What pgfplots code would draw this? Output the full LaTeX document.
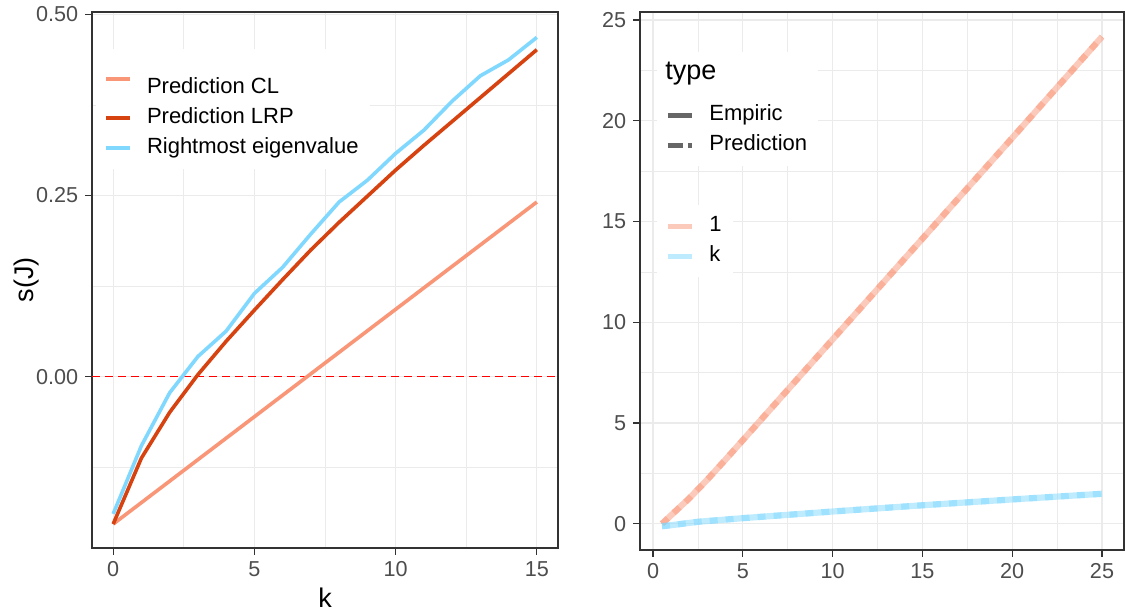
\documentclass[border=0pt]{standalone}
\usepackage{pgfplots}
\pgfplotsset{compat=1.18}
\usepackage{fontspec}
\setmainfont{Liberation Sans}
\definecolor{cl}{RGB}{250,150,120}
\definecolor{lrp}{RGB}{214,66,16}
\definecolor{eig}{RGB}{128,216,255}
\definecolor{gridc}{RGB}{235,235,235}
\definecolor{tickc}{RGB}{77,77,77}
\definecolor{framec}{RGB}{51,51,51}
\definecolor{keyc}{RGB}{102,102,102}
\pgfplotsset{ggstyle/.style={
  scale only axis,
  axis line style={framec, line width=0.6pt},
  tick align=outside, tick pos=left,
  major tick length=3.4pt, minor tick length=0pt,
  tick style={framec, line width=0.6pt},
  grid=both,
  major grid style={gridc, line width=0.6pt},
  minor grid style={gridc, line width=0.3pt},
  ticklabel style={font=\fontsize{10.8}{13}\selectfont, text=tickc},
  /pgf/number format/assume math mode=true,
  label style={font=\fontsize{13.5}{16}\selectfont},
  legend cell align=left,
  legend image code/.code={\draw[##1] (0pt,0pt) -- (12pt,0pt);},
  legend style={draw=none, fill=white, font=\fontsize{11}{13}\selectfont,
    inner xsep=4pt, inner ysep=4pt, row sep=2pt,
    nodes={inner sep=1.5pt, text height=7.8pt, text depth=2.2pt},
    /tikz/every odd column/.append style={column sep=6pt}},
}}
\begin{document}
\begin{tikzpicture}
\path[use as bounding box] (0,0) rectangle (562.5pt,305.5pt);
% ---------------- left panel ----------------
\begin{axis}[ggstyle,
  at={(46pt,31.5pt)}, anchor=south west, width=233pt, height=268pt,
  xmin=-0.75, xmax=15.75, ymin=-0.236, ymax=0.503,
  xtick={0,5,10,15}, minor xtick={2.5,7.5,12.5},
  ytick={0,0.25,0.5}, minor ytick={-0.125,0.125,0.375},
  yticklabel style={/pgf/number format/.cd, fixed, fixed zerofill, precision=2},
  xlabel={k}, ylabel={s(J)},
  xlabel style={at={(axis description cs:0.5,-0.0933)}, anchor=center},
  ylabel style={at={(axis description cs:-0.1395,0.5)}, anchor=center},
  legend style={at={(axis description cs:0.0086,0.931)}, anchor=north west},
]
\addplot[red, line width=0.6pt, dash pattern=on 4pt off 2.5pt, forget plot]
  coordinates {(-0.75,0) (15.75,0)};
\addplot[cl, line width=1.8pt] table {
k s
0 -0.203
5 -0.055
10 0.093
15 0.241
};
\addlegendentry[text height=16.5pt]{Prediction CL}
\addplot[lrp, line width=1.8pt] table {
k s
0 -0.203
1 -0.112
2 -0.049
3 0.003
4 0.049
5 0.092
6 0.134
7 0.175
8 0.213
9 0.249
10 0.285
11 0.319
12 0.352
13 0.385
14 0.418
15 0.451
};
\addlegendentry{Prediction LRP}
\addplot[eig, line width=1.8pt] table {
k s
0 -0.189
1 -0.095
2 -0.022
3 0.028
4 0.063
5 0.115
6 0.151
7 0.197
8 0.241
9 0.271
10 0.308
11 0.340
12 0.380
13 0.415
14 0.437
15 0.468
};
\addlegendentry{Rightmost eigenvalue}
\end{axis}
% ---------------- right panel ----------------
\begin{axis}[ggstyle,
  at={(320pt,30.5pt)}, anchor=south west, width=242pt, height=269pt,
  xmin=-0.725, xmax=26.225, ymin=-1.3, ymax=25.4,
  xtick={0,5,...,25}, minor xtick={2.5,7.5,...,22.5},
  ytick={0,5,...,25}, minor ytick={2.5,7.5,...,22.5},
  legend style={at={(axis description cs:0.035,0.642)}, anchor=north west},
]
\addplot[cl, line width=3.1pt, opacity=0.5, forget plot] table {
k s
0.5 0.0
1 0.42
2 1.25
3 2.17
4 3.15
5 4.15
10 9.15
15 14.15
20 19.15
25 24.17
};
\addplot[cl, line width=3.1pt, opacity=0.5, dash pattern=on 4pt off 4pt, forget plot] table {
k s
0.5 0.0
1 0.42
2 1.25
3 2.17
4 3.15
5 4.15
10 9.15
15 14.15
20 19.15
25 24.17
};
\addplot[eig, line width=3.1pt, opacity=0.5, forget plot] table {
k s
0.5 -0.12
1 -0.07
2.5 0.10
5 0.28
10 0.61
15 0.92
20 1.21
25 1.49
};
\addplot[eig, line width=3.1pt, opacity=0.5, dash pattern=on 4pt off 4pt, forget plot] table {
k s
0.5 -0.12
1 -0.07
2.5 0.10
5 0.28
10 0.61
15 0.92
20 1.21
25 1.49
};
\addlegendimage{cl, line width=2.5pt, opacity=0.5}
\addlegendentry{1}
\addlegendimage{eig, line width=2.5pt, opacity=0.5}
\addlegendentry{k}
\end{axis}
% overlay axis carrying the linetype legend
\begin{axis}[ggstyle, hide axis,
  at={(320pt,30.5pt)}, anchor=south west, width=242pt, height=269pt,
  xmin=-0.725, xmax=26.225, ymin=-1.3, ymax=25.4,
  legend style={at={(axis description cs:0.035,0.9257)}, anchor=north west},
]
\addlegendimage{empty legend}
\addlegendentry[text height=8pt, text depth=8pt, font=\fontsize{13.5}{16}\selectfont]{\hspace*{-22pt}type}
\addlegendimage{keyc, line width=2.5pt}
\addlegendentry{Empiric}
\addlegendimage{keyc, line width=2.5pt, dash pattern=on 7.5pt off 2.5pt}
\addlegendentry{Prediction}
\end{axis}
\end{tikzpicture}
\end{document}
